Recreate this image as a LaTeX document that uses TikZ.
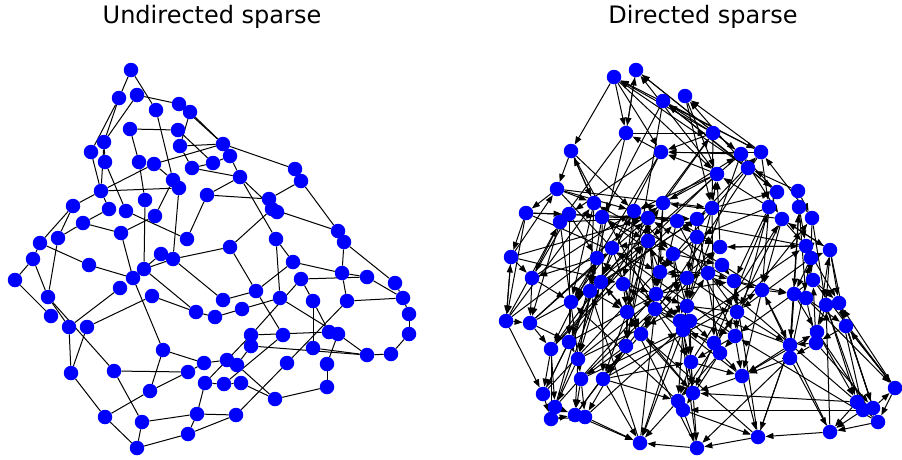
\documentclass[tikz,border=0pt]{standalone}
\usepackage{fontspec}
\setmainfont{DejaVu Sans}
\usetikzlibrary{arrows.meta,backgrounds}
\definecolor{vertfill}{RGB}{0,0,255}
\definecolor{edgecol}{RGB}{0,0,0}

\begin{document}
\begin{tikzpicture}[
  x=1pt, y=-1pt,
  vert/.style={circle, fill=vertfill, draw=none, inner sep=0pt, minimum size=14.5pt},
  uedge/.style={draw=edgecol, line width=1pt},
  dedge/.style={draw=edgecol, line width=1pt, -{Triangle[length=8pt,width=6pt]}},
  title/.style={font=\fontsize{24}{28}\selectfont, inner sep=0pt, anchor=base},
]
\useasboundingbox (0,0) rectangle (902,459);

% ---- Titles ----
\node (tundir) at (212,23) [title] {Undirected sparse};
\node (tdir)   at (703,23) [title] {Directed sparse};

% ---- Undirected graph: vertices ----
\foreach \n/\x/\y in {u1/131/70, u2/119/98, u3/137/95, u4/156/110, u5/179/104,
    u6/190/112, u7/130/129, u8/178/130, u9/104/142, u10/91/152, u11/105/162,
    u12/139/162, u13/154/164, u14/180/146, u15/192/168, u16/213/163,
    u17/223/144, u18/230/156, u19/173/180, u20/179/188, u21/207/195,
    u22/101/191, u23/145/200, u24/73/206, u25/109/209, u26/126/211,
    u27/155/216, u28/83/223, u29/121/233, u30/187/239, u31/58/238,
    u32/40/243, u33/33/259, u34/161/254, u35/173/259, u36/240/177,
    u37/295/169, u38/301/181, u39/269/199, u40/272/209, u41/277/212,
    u42/338/231, u43/344/242, u44/276/239, u45/230/247, u46/15/280,
    u47/89/265, u48/144/269, u49/133/278, u50/120/288, u51/152/296,
    u52/48/297, u53/51/316, u54/69/327, u55/87/327, u56/196/312,
    u57/215/317, u58/163/350, u59/71/373, u60/114/371, u61/188/372,
    u62/204/363, u63/205/383, u64/150/391, u65/105/417, u66/142/422,
    u67/197/414, u68/188/434, u69/137/448, u70/293/262, u71/301/279,
    u72/342/273, u73/367/277, u74/395/283, u75/403/298, u76/409/314,
    u77/409/334, u78/347/301, u79/313/301, u80/280/298, u81/256/291,
    u82/223/300, u83/242/309, u84/251/335, u85/251/346, u86/283/335,
    u87/313/348, u88/329/332, u89/338/334, u90/367/355, u91/391/354,
    u92/327/364, u93/327/387, u94/287/363, u95/227/360, u96/237/365,
    u97/224/384, u98/241/383, u99/275/399, u100/236/415}
  \node (\n) at (\x,\y) [vert] {};

% ---- Directed graph: vertices ----
\foreach \n/\x/\y in {d1/614/77, d2/636/70, d3/663/101, d4/685/96, d5/626/133,
    d6/571/151, d7/661/152, d8/713/133, d9/741/154, d10/761/152, d11/748/168,
    d12/717/174, d13/557/189, d14/594/203, d15/526/213, d16/569/214,
    d17/560/222, d18/602/217, d19/634/211, d20/648/218, d21/663/203,
    d22/677/221, d23/697/219, d24/712/208, d25/697/237, d26/648/241,
    d27/612/248, d28/597/258, d29/673/254, d30/511/257, d31/720/247,
    d32/777/192, d33/798/191, d34/769/207, d35/799/207, d36/782/219,
    d37/812/218, d38/806/246, d39/830/250, d40/532/278, d41/506/321,
    d42/530/323, d43/571/302, d44/660/272, d45/687/278, d46/601/282,
    d47/590/291, d48/623/284, d49/656/294, d50/655/309, d51/627/312,
    d52/687/306, d53/680/321, d54/690/321, d55/683/330, d56/641/334,
    d57/626/346, d58/569/342, d59/551/349, d60/578/359, d61/581/379,
    d62/603/379, d63/691/362, d64/693/393, d65/678/401, d66/683/410,
    d67/543/394, d68/555/407, d69/551/419, d70/575/415, d71/585/417,
    d72/640/443, d73/697/448, d74/722/265, d75/708/273, d76/734/281,
    d77/811/258, d78/813/280, d79/762/290, d80/794/294, d81/806/298,
    d82/826/305, d83/839/303, d84/737/312, d85/846/326, d86/735/336,
    d87/714/343, d88/720/353, d89/817/332, d90/816/343, d91/790/345,
    d92/790/358, d93/742/376, d94/895/388, d95/857/402, d96/863/410,
    d97/873/408, d98/878/422, d99/830/432, d100/758/437}
  \node (\n) at (\x,\y) [vert] {};

\begin{scope}[on background layer]
% ---- Undirected edges ----
\foreach \a/\b in {u1/u2, u1/u4, u3/u5, u3/u9, u2/u10, u2/u9, u4/u19, u5/u6,
    u6/u17, u5/u17, u6/u14, u7/u8, u7/u12, u9/u11, u10/u22, u9/u22, u11/u26,
    u14/u17, u14/u15, u12/u23, u13/u19, u13/u17, u15/u16, u16/u18, u8/u16,
    u15/u36, u22/u20, u24/u22, u22/u13, u22/u25, u26/u30, u24/u31, u24/u32,
    u28/u25, u28/u29, u28/u31, u29/u27, u27/u19, u30/u21, u35/u20, u23/u48,
    u29/u49, u17/u37, u18/u36, u21/u39, u21/u36, u36/u41, u36/u44, u37/u38,
    u38/u39, u38/u42, u40/u42, u45/u40, u42/u43, u43/u72, u35/u45, u32/u33,
    u33/u46, u33/u52, u46/u53, u31/u52, u32/u47, u47/u49, u49/u34, u48/u35,
    u49/u58, u50/u54, u51/u55, u51/u56, u52/u54, u52/u60, u54/u59, u55/u59,
    u59/u65, u60/u61, u60/u66, u58/u64, u58/u62, u64/u65, u64/u61, u65/u69,
    u66/u69, u66/u67, u69/u68, u68/u67, u48/u56, u35/u82, u56/u57, u61/u62,
    u63/u67, u44/u70, u44/u80, u70/u72, u70/u81, u71/u73, u71/u79, u71/u84,
    u43/u74, u72/u78, u72/u73, u73/u75, u74/u75, u75/u76, u76/u77, u78/u75,
    u78/u94, u79/u88, u79/u87, u80/u83, u80/u89, u81/u82, u81/u86, u45/u81,
    u84/u88, u85/u90, u87/u90, u89/u90, u89/u92, u90/u91, u91/u77, u92/u93,
    u93/u99, u98/u99, u100/u67, u100/u94, u100/u68, u57/u83, u62/u95,
    u96/u99, u97/u98, u63/u97, u97/u86, u63/u84, u88/u89, u85/u96}
  \draw[uedge] (\a) -- (\b);

% ---- Directed edges ----
\foreach \a/\b in {d1/d6, d1/d5, d1/d7, d2/d5, d5/d2, d3/d18, d3/d10, d4/d24,
    d5/d8, d5/d17, d6/d14, d6/d19, d6/d13, d7/d5, d7/d16, d7/d27, d8/d1,
    d8/d3, d8/d7, d8/d24, d9/d2, d9/d7, d9/d36, d10/d4, d10/d7, d10/d34,
    d11/d3, d11/d1, d11/d32, d11/d4, d12/d7, d12/d19, d12/d21, d13/d14,
    d13/d19, d13/d15, d14/d6, d14/d43, d15/d16, d15/d30, d15/d41, d16/d18,
    d16/d28, d17/d42, d17/d40, d17/d20, d18/d23, d18/d26, d18/d47, d19/d21,
    d19/d29, d19/d48, d20/d22, d20/d26, d20/d49, d21/d8, d21/d9, d21/d44,
    d22/d25, d22/d31, d22/d50, d23/d10, d23/d45, d24/d32, d24/d12, d24/d52,
    d25/d31, d25/d44, d25/d55, d26/d29, d26/d27, d26/d57, d27/d46, d27/d43,
    d28/d47, d28/d40, d28/d59, d29/d44, d29/d74, d29/d53, d30/d13, d30/d40,
    d30/d41, d31/d38, d31/d12, d32/d9, d32/d34, d33/d37, d33/d11, d34/d79,
    d34/d12, d35/d38, d35/d81, d36/d38, d36/d39, d36/d84, d37/d77, d37/d10,
    d38/d77, d38/d78, d38/d31, d39/d83, d39/d82, d39/d36, d40/d42, d40/d43,
    d40/d16, d41/d42, d41/d67, d41/d30, d42/d59, d42/d58, d42/d47, d43/d58,
    d43/d47, d43/d46, d44/d45, d44/d49, d44/d26, d45/d74, d45/d52, d45/d75,
    d46/d51, d46/d60, d47/d51, d47/d60, d47/d58, d48/d49, d48/d51, d48/d56,
    d49/d52, d49/d76, d50/d53, d50/d56, d50/d63, d51/d57, d51/d56, d51/d62,
    d52/d84, d52/d75, d53/d63, d53/d72, d54/d86, d54/d63, d54/d87, d55/d64,
    d55/d72, d55/d65, d56/d62, d56/d64, d57/d61, d57/d62, d57/d71, d58/d67,
    d58/d60, d59/d67, d59/d68, d59/d69, d60/d70, d60/d68, d61/d70, d61/d71,
    d62/d72, d62/d65, d62/d63, d63/d64, d63/d65, d63/d93, d64/d73, d65/d72,
    d66/d73, d66/d100, d67/d69, d68/d70, d69/d70, d69/d71, d70/d72, d71/d72,
    d73/d72, d74/d76, d75/d76, d75/d84, d75/d44, d76/d79, d76/d84, d76/d80,
    d77/d39, d77/d80, d78/d94, d78/d83, d79/d80, d79/d91, d79/d93, d80/d89,
    d80/d91, d81/d85, d81/d94, d82/d95, d82/d96, d83/d85, d83/d96, d83/d97,
    d84/d86, d84/d87, d84/d91, d85/d94, d85/d97, d85/d98, d86/d88, d86/d93,
    d86/d63, d87/d64, d87/d55, d88/d93, d88/d65, d88/d66, d89/d95, d89/d98,
    d90/d91, d90/d97, d90/d92, d91/d100, d91/d93, d92/d73, d92/d93, d92/d99,
    d93/d100, d93/d64, d94/d85, d94/d98, d95/d99, d95/d64, d96/d66, d96/d99,
    d97/d94, d98/d99, d98/d95, d99/d82, d99/d100, d100/d73, d100/d91,
    d8/d59, d9/d43, d10/d56, d1/d12, d2/d9, d4/d12, d12/d2, d32/d3, d10/d1,
    d41/d17, d30/d20, d15/d23, d13/d24, d67/d19, d68/d28, d69/d46, d61/d45,
    d60/d31, d62/d79, d65/d84, d100/d76, d99/d79, d95/d75, d98/d86, d94/d83,
    d73/d53, d64/d52, d72/d50, d70/d57, d41/d14, d42/d27, d58/d21, d59/d22,
    d43/d26, d47/d24, d46/d23, d57/d20, d56/d31, d55/d38, d63/d36, d87/d32,
    d86/d34, d84/d37, d91/d35, d92/d77, d90/d78, d89/d39, d93/d89, d85/d90,
    d82/d89, d80/d92, d81/d90, d77/d84, d78/d86, d39/d85, d38/d83, d37/d82,
    d36/d79, d35/d80, d34/d76, d27/d56, d28/d60, d26/d51, d29/d54, d25/d53,
    d24/d87, d23/d88, d22/d86, d21/d49, d20/d50, d19/d57, d18/d62, d17/d61,
    d16/d58, d14/d47,
    d6/d50, d13/d53, d15/d44, d30/d48, d40/d19, d41/d21, d42/d20, d59/d26,
    d67/d29, d68/d49, d58/d45, d60/d52, d61/d55, d70/d50, d71/d54, d72/d47,
    d73/d51, d64/d46, d65/d43, d93/d48, d100/d56, d91/d49, d88/d28, d86/d27,
    d84/d18, d76/d14, d79/d20, d38/d22, d36/d21, d34/d25, d12/d26, d11/d44,
    d9/d52, d7/d43, d5/d47, d3/d51}
  \draw[dedge] (\a) -- (\b);
\end{scope}

\end{tikzpicture}
\end{document}
